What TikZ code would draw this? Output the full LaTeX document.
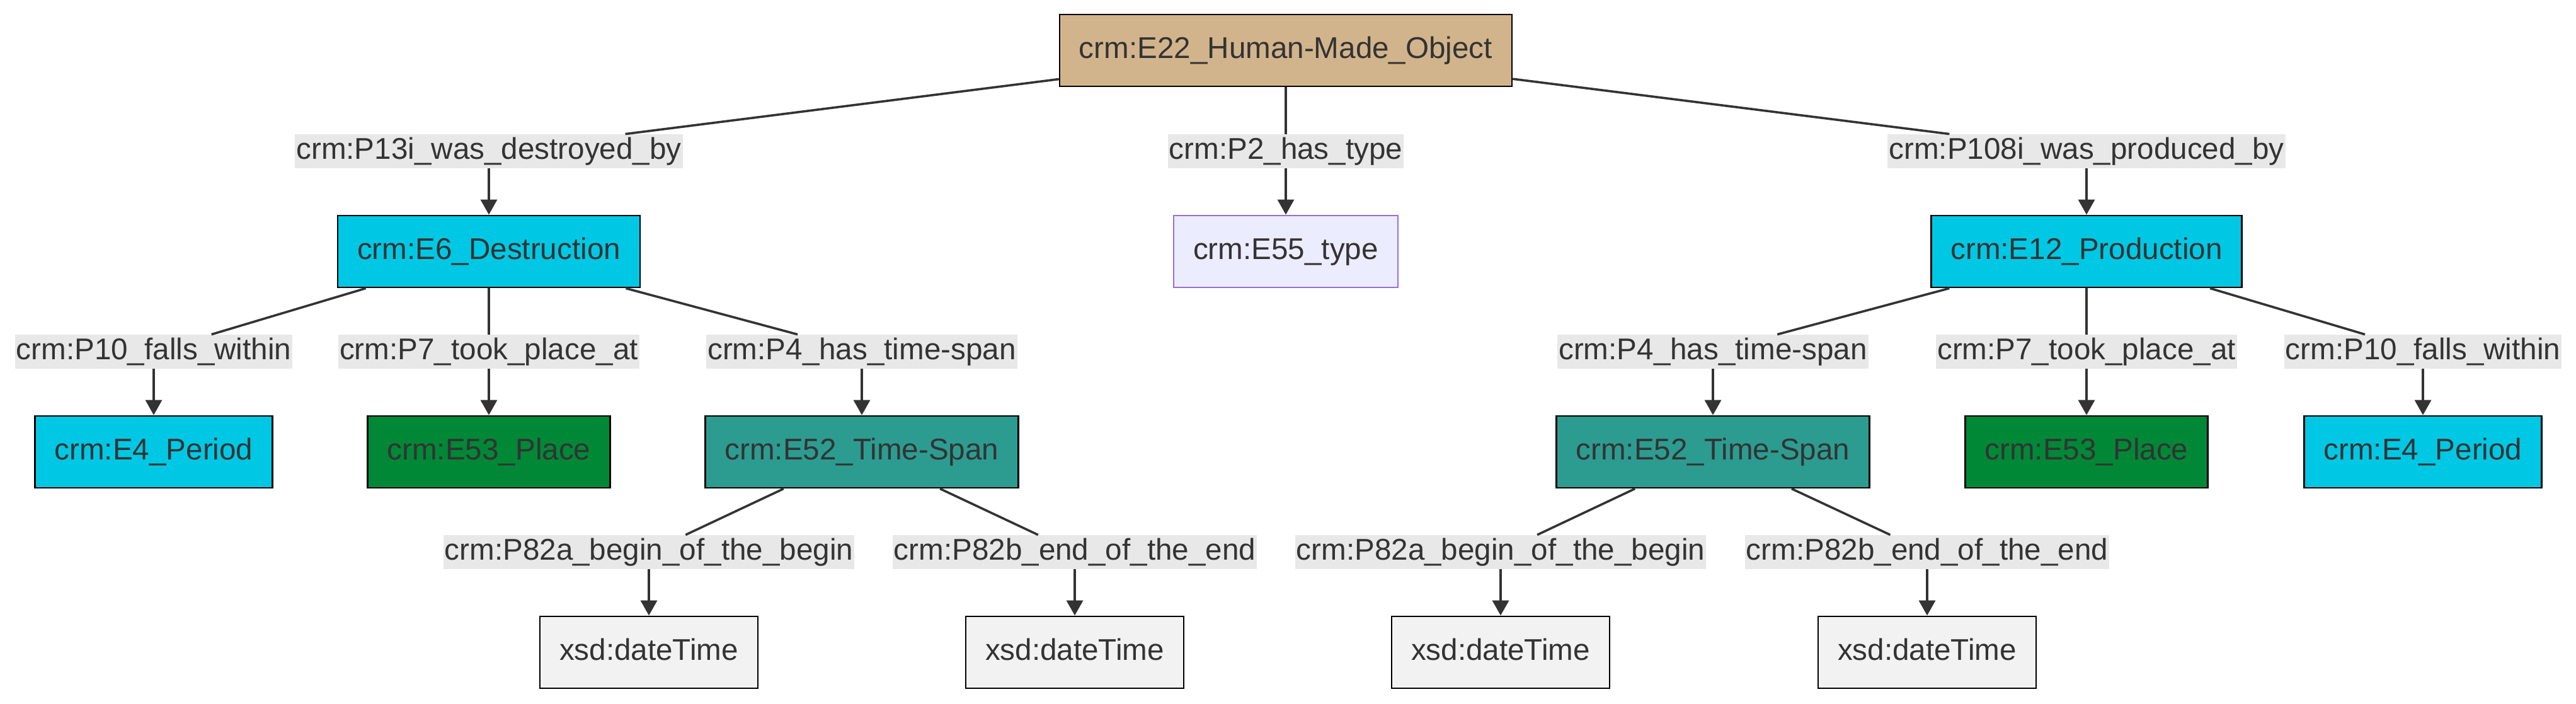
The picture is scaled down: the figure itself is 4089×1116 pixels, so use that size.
\documentclass[tikz,border=0pt]{standalone}
\usepackage{fontspec}
\setmainfont{Liberation Sans}
\usetikzlibrary{arrows.meta}
\definecolor{txt}{HTML}{333333}
\definecolor{edgec}{HTML}{333333}
\definecolor{lblbg}{HTML}{E8E8E8}
\definecolor{tanc}{HTML}{D2B48C}
\definecolor{cyanc}{HTML}{00C8E4}
\definecolor{greenc}{HTML}{008836}
\definecolor{tealc}{HTML}{2C9C91}
\definecolor{greyc}{HTML}{F2F2F2}
\definecolor{typefill}{HTML}{ECECFF}
\definecolor{typeline}{HTML}{9370DB}
\tikzset{
  base/.style={font=\fontsize{11.9pt}{14pt}\selectfont, text=txt, text height=8.7pt, text depth=2.6pt},
  box/.style={base, draw=black, line width=0.6pt, rectangle, inner xsep=7.75pt, inner ysep=0pt, minimum height=28.6pt},
  lbl/.style={base, fill=lblbg, inner xsep=0.5pt, inner ysep=0pt, minimum height=13.3pt},
  edge/.style={draw=edgec, line width=0.9pt},
  arr/.style={edge, -{Triangle[length=6pt,width=6.5pt]}},
  tanbox/.style={box, fill=tanc},
  cyanbox/.style={box, fill=cyanc},
  greenbox/.style={box, fill=greenc},
  tealbox/.style={box, fill=tealc},
  greybox/.style={box, fill=greyc},
  typebox/.style={box, fill=typefill, draw=typeline},
}
\begin{document}
\begin{tikzpicture}[x=0.25pt,y=-0.25pt]
\useasboundingbox[fill=white] (0,0) rectangle (4089,1116);
% nodes
\node[tanbox] (root) at (2041,80) {crm:E22\_Human-Made\_Object};
\node[lbl] (l1a) at (776,240) {crm:P13i\_was\_destroyed\_by};
\node[lbl] (l1b) at (2041,240) {crm:P2\_has\_type};
\node[lbl] (l1c) at (3312,240) {crm:P108i\_was\_produced\_by};
\node[cyanbox] (destr) at (776,399) {crm:E6\_Destruction};
\node[typebox] (type) at (2041,399) {crm:E55\_type};
\node[cyanbox] (prod) at (3312,399) {crm:E12\_Production};
% level 3 labels
\node[lbl] (l3a) at (244,558) {crm:P10\_falls\_within};
\node[lbl] (l3b) at (776,558) {crm:P7\_took\_place\_at};
\node[lbl] (l3c) at (1368,558) {crm:P4\_has\_time-span};
\node[lbl] (l3d) at (2719,558) {crm:P4\_has\_time-span};
\node[lbl] (l3e) at (3312,558) {crm:P7\_took\_place\_at};
\node[lbl] (l3f) at (3846,558) {crm:P10\_falls\_within};
% level 4 nodes
\node[cyanbox] (per1) at (244,717) {crm:E4\_Period};
\node[greenbox] (pl1) at (776,717) {crm:E53\_Place};
\node[tealbox] (ts1) at (1368,717) {crm:E52\_Time-Span};
\node[tealbox] (ts2) at (2719,717) {crm:E52\_Time-Span};
\node[greenbox] (pl2) at (3312,717) {crm:E53\_Place};
\node[cyanbox] (per2) at (3846,717) {crm:E4\_Period};
% level 5 labels
\node[lbl] (l5a) at (1030,876) {crm:P82a\_begin\_of\_the\_begin};
\node[lbl] (l5b) at (1706,876) {crm:P82b\_end\_of\_the\_end};
\node[lbl] (l5c) at (2382,876) {crm:P82a\_begin\_of\_the\_begin};
\node[lbl] (l5d) at (3059,876) {crm:P82b\_end\_of\_the\_end};
% level 6 nodes
\node[greybox] (dt1) at (1030,1035) {xsd:dateTime};
\node[greybox] (dt2) at (1706,1035) {xsd:dateTime};
\node[greybox] (dt3) at (2382,1035) {xsd:dateTime};
\node[greybox] (dt4) at (3059,1035) {xsd:dateTime};
% edges
\draw[edge] (root) -- (l1a);
\draw[arr] (l1a) -- (destr);
\draw[edge] (root) -- (l1b);
\draw[arr] (l1b) -- (type);
\draw[edge] (root) -- (l1c);
\draw[arr] (l1c) -- (prod);
\draw[edge] (destr) -- (l3a);
\draw[arr] (l3a) -- (per1);
\draw[edge] (destr) -- (l3b);
\draw[arr] (l3b) -- (pl1);
\draw[edge] (destr) -- (l3c);
\draw[arr] (l3c) -- (ts1);
\draw[edge] (prod) -- (l3d);
\draw[arr] (l3d) -- (ts2);
\draw[edge] (prod) -- (l3e);
\draw[arr] (l3e) -- (pl2);
\draw[edge] (prod) -- (l3f);
\draw[arr] (l3f) -- (per2);
\draw[edge] (ts1) -- (l5a);
\draw[arr] (l5a) -- (dt1);
\draw[edge] (ts1) -- (l5b);
\draw[arr] (l5b) -- (dt2);
\draw[edge] (ts2) -- (l5c);
\draw[arr] (l5c) -- (dt3);
\draw[edge] (ts2) -- (l5d);
\draw[arr] (l5d) -- (dt4);
\end{tikzpicture}
\end{document}
